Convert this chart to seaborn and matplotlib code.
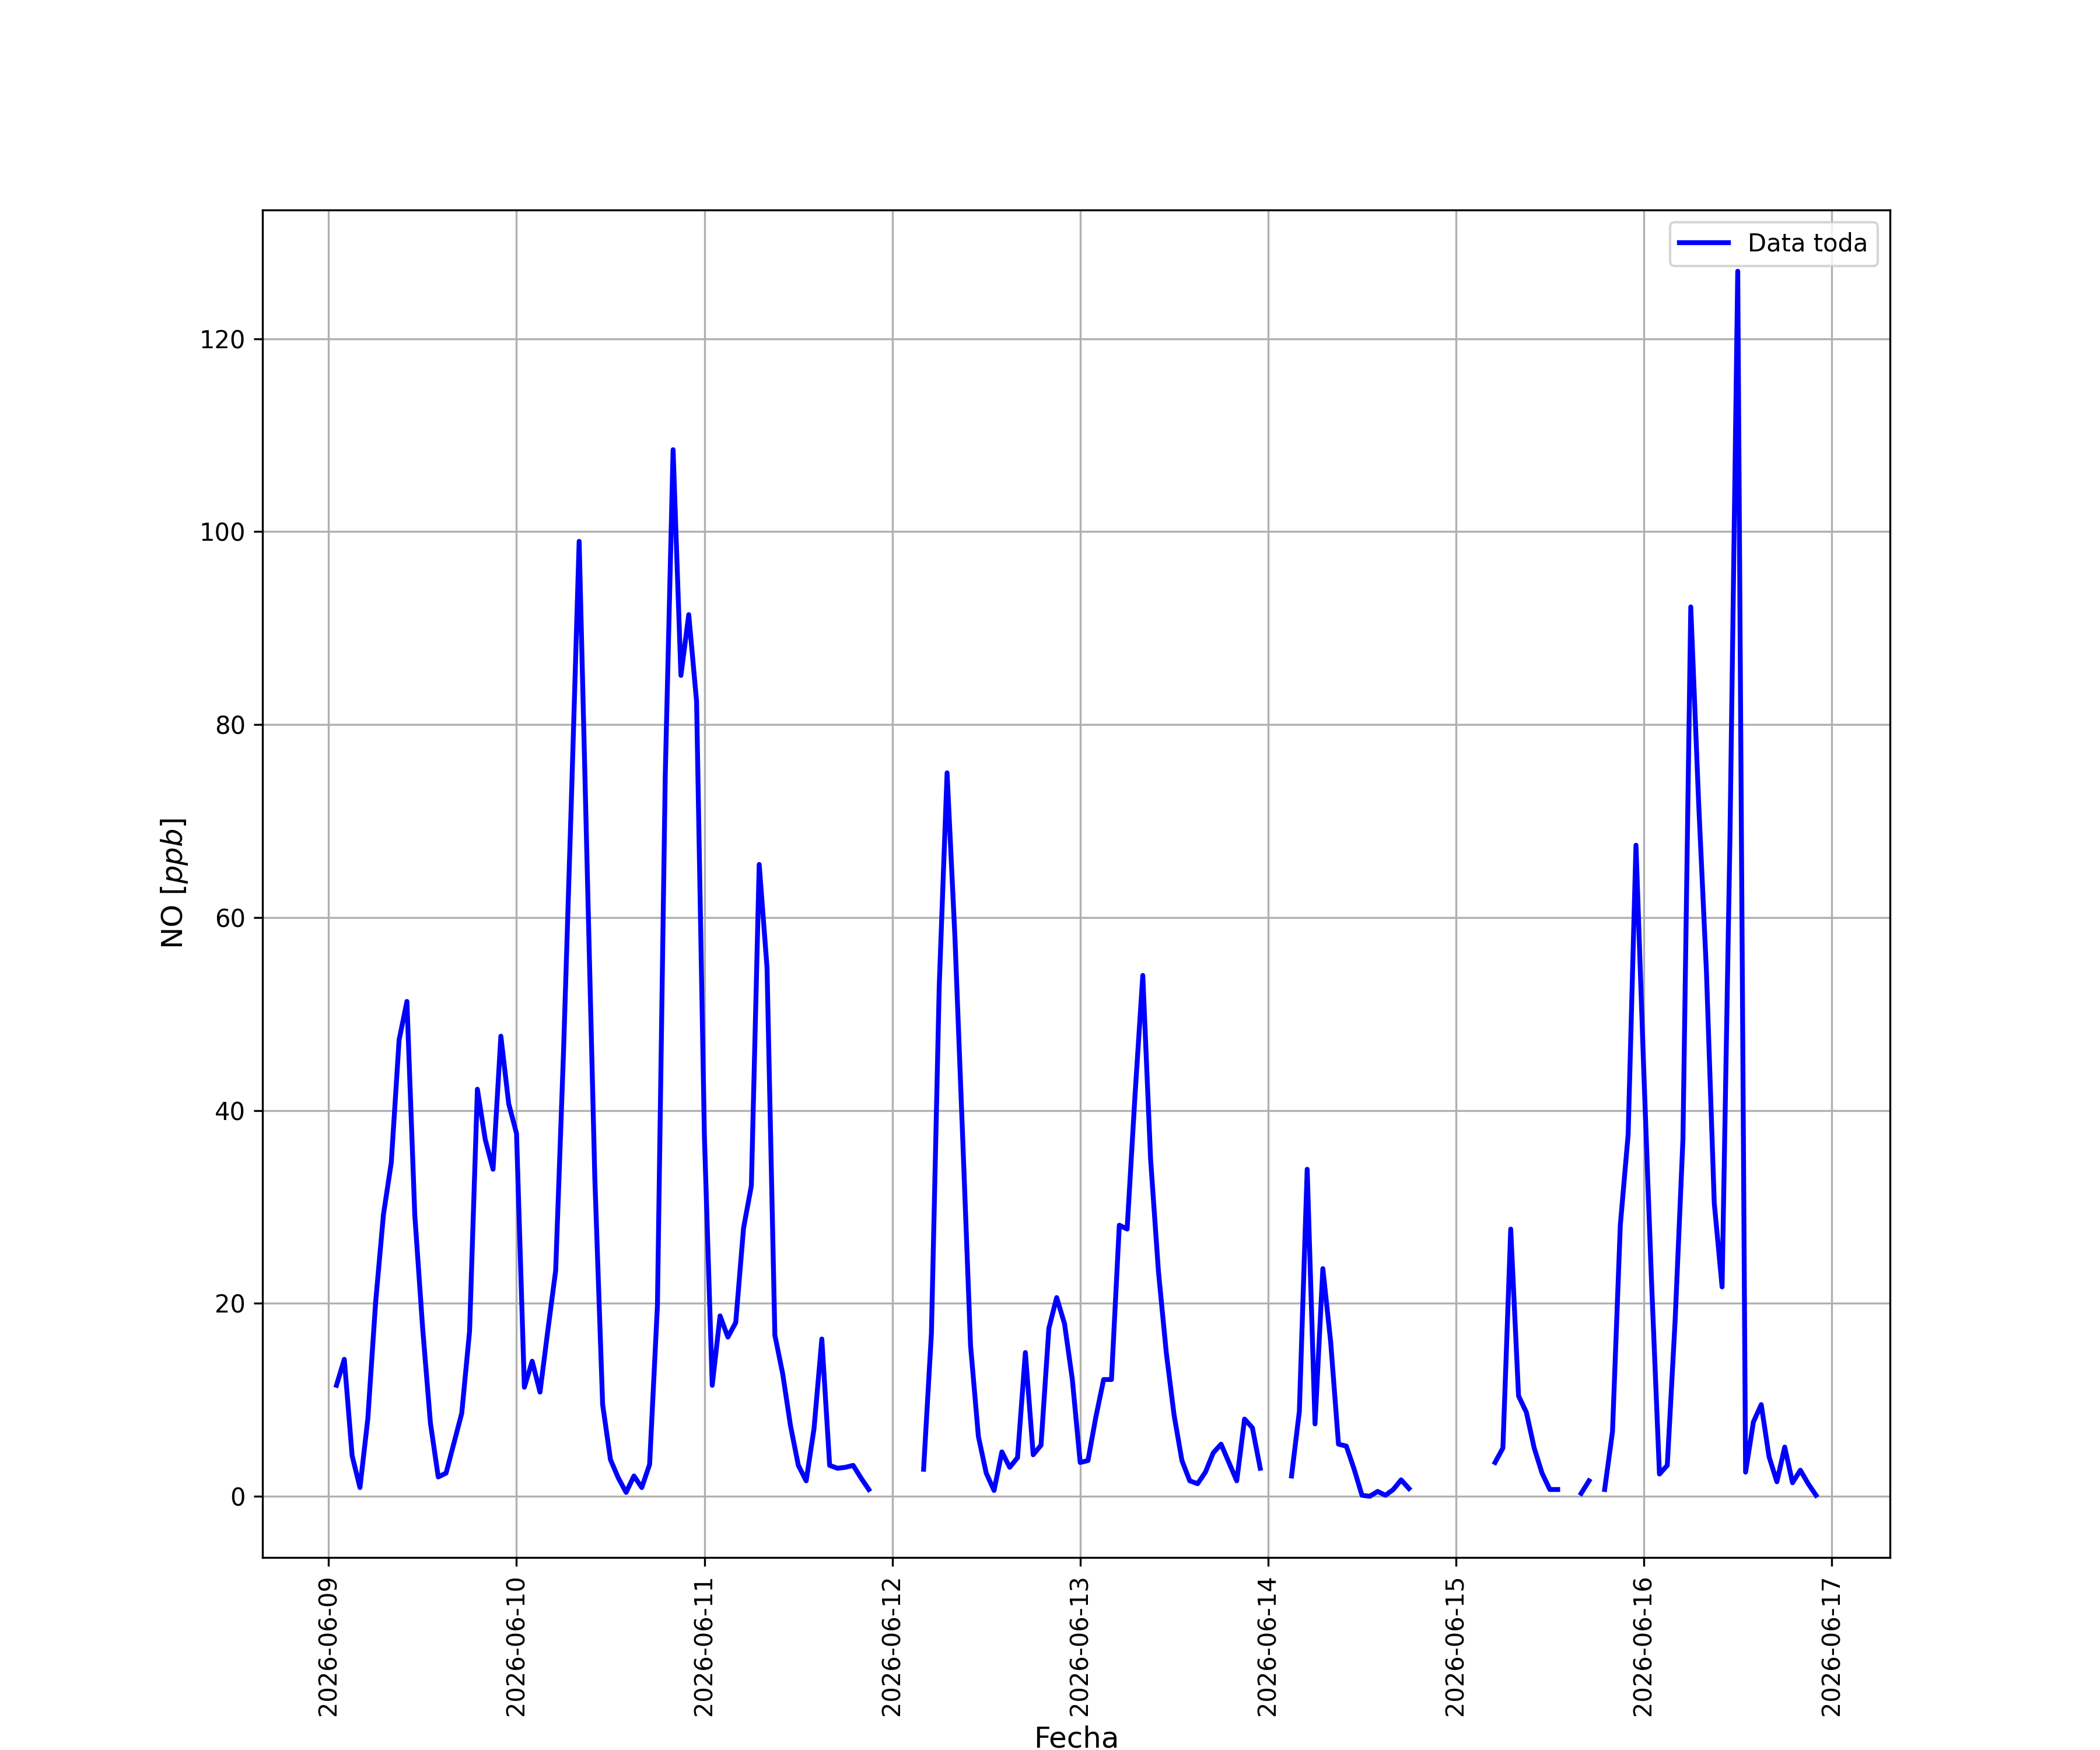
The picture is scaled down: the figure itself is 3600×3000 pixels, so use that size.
import numpy as np
import pandas as pd
import matplotlib
matplotlib.use("Agg")
import matplotlib.pyplot as plt
import matplotlib.dates as mdates
from matplotlib.lines import Line2D
import seaborn as sns

nan = np.nan

# Hourly NO [ppb] values
day_0609 = [11.5, 14.2, 4.2, 0.9, 8.0, 20.1, 29.2, 34.6, 47.3, 51.3, 29.2, 17.5,
            7.6, 2.0, 2.4, 5.5, 8.6, 17.1, 42.2, 37.0, 33.9, 47.7, 40.7]  # 01h..23h
day_0610 = [37.6, 11.3, 14.0, 10.8, 17.2, 23.4, 46.0, 72.0, 99.0, 66.0, 33.0, 9.5,
            3.8, 1.9, 0.4, 2.1, 0.9, 3.3, 19.8, 74.8, 108.5, 85.1, 91.4, 82.4]
day_0611 = [37.3, 11.5, 18.7, 16.5, 18.0, 27.8, 32.2, 65.5, 54.8, 16.7, 12.7, 7.3,
            3.2, 1.6, 7.0, 16.3, 3.2, 2.9, 3.0, 3.2, 1.9, 0.7, nan, nan]
day_0612 = [nan, nan, nan, nan, 2.8, 16.9, 53.0, 75.0, 58.0, 37.0, 15.6, 6.2,
            2.4, 0.6, 4.6, 3.0, 4.0, 14.9, 4.3, 5.3, 17.4, 20.6, 17.9, 12.1]
day_0613 = [3.5, 3.7, 8.2, 12.1, 12.1, 28.1, 27.7, 41.5, 54.0, 34.9, 23.3, 14.9,
            8.4, 3.7, 1.6, 1.3, 2.5, 4.5, 5.4, 3.5, 1.6, 8.0, 7.1, 2.9]
day_0614 = [nan, nan, nan, 2.1, 8.8, 33.9, 7.5, 23.6, 16.0, 5.4, 5.2, 2.8,
            0.1, 0.0, 0.5, 0.1, 0.7, 1.7, 0.8, nan, nan, nan, nan, nan]
day_0615 = [nan, nan, nan, nan, nan, 3.5, 5.0, 27.7, 10.4, 8.7, 5.0, 2.4,
            0.7, 0.7, nan, nan, 0.3, 1.6, nan, 0.7, 6.7, 28.1, 37.5, 67.5]
day_0616 = [44.0, 22.0, 2.3, 3.2, 18.2, 37.0, 92.2, 72.0, 54.4, 30.4, 21.7, 68.0,
            127.0, 2.5, 7.7, 9.5, 4.1, 1.5, 5.1, 1.4, 2.7, 1.3, 0.1]  # 00h..22h

values = (day_0609 + day_0610 + day_0611 + day_0612 + day_0613 +
          day_0614 + day_0615 + day_0616)
times = pd.date_range("2026-06-09 01:00", periods=len(values), freq="h")

df = pd.DataFrame({"Fecha": times, "NO": values})
df["seg"] = df["NO"].isna().cumsum()
df = df.dropna()

plt.rcParams.update(plt.rcParamsDefault)
fig, ax = plt.subplots(figsize=(12, 10), dpi=300)

sns.lineplot(data=df, x="Fecha", y="NO", units="seg", estimator=None,
             color="blue", linewidth=2.0, ax=ax)

ax.xaxis.set_major_locator(mdates.DayLocator())
ax.xaxis.set_major_formatter(mdates.DateFormatter("%Y-%m-%d"))
plt.setp(ax.get_xticklabels(), rotation=90)

ax.grid(True)
ax.set_xlabel("Fecha", fontsize=12)
ax.set_ylabel("NO [$ppb$]", fontsize=12)
ax.legend(handles=[Line2D([], [], color="blue", linewidth=2.0, label="Data toda")],
          loc="upper right")

fig.savefig("out.png", dpi=300)
